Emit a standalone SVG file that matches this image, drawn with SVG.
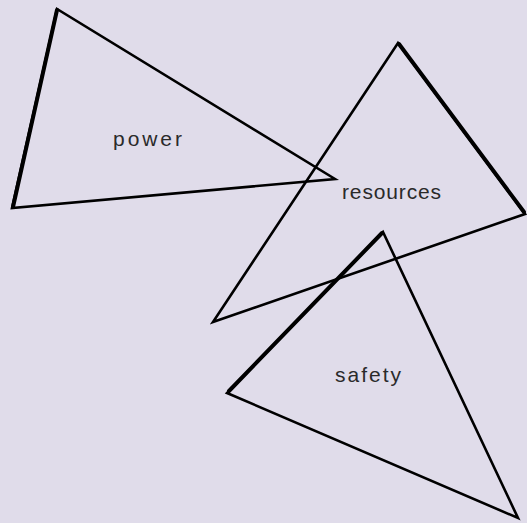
<svg xmlns="http://www.w3.org/2000/svg" width="527" height="523" viewBox="0 0 527 523">
<style>
.tri{fill:none;stroke:#000;stroke-width:2.6;stroke-linejoin:miter;stroke-miterlimit:20}
.thick{stroke:#000;stroke-width:4;stroke-linecap:round}
.lbl{font-family:"Liberation Sans","DejaVu Sans",sans-serif;font-size:21px;fill:#2a2a2a}
</style>
<rect width="527" height="523" fill="#e0dcea"/>
<g id="power">
<polygon class="tri" points="57,9 12,208 335,179"/>
<line class="thick" x1="57" y1="10" x2="13" y2="207"/>
<text class="lbl" x="113" y="146" textLength="69" lengthAdjust="spacing">power</text>
</g>
<g id="resources">
<polygon class="tri" points="398,43 525,214 213,322"/>
<line class="thick" x1="399" y1="44" x2="524" y2="212"/>
<text class="lbl" x="342" y="199" textLength="99" lengthAdjust="spacing">resources</text>
</g>
<g id="safety">
<polygon class="tri" points="383,232 227,393 518,518"/>
<line class="thick" x1="382" y1="233" x2="229" y2="391"/>
<text class="lbl" x="335" y="382" textLength="66" lengthAdjust="spacing">safety</text>
</g>
<g id="connectors"></g>
</svg>
